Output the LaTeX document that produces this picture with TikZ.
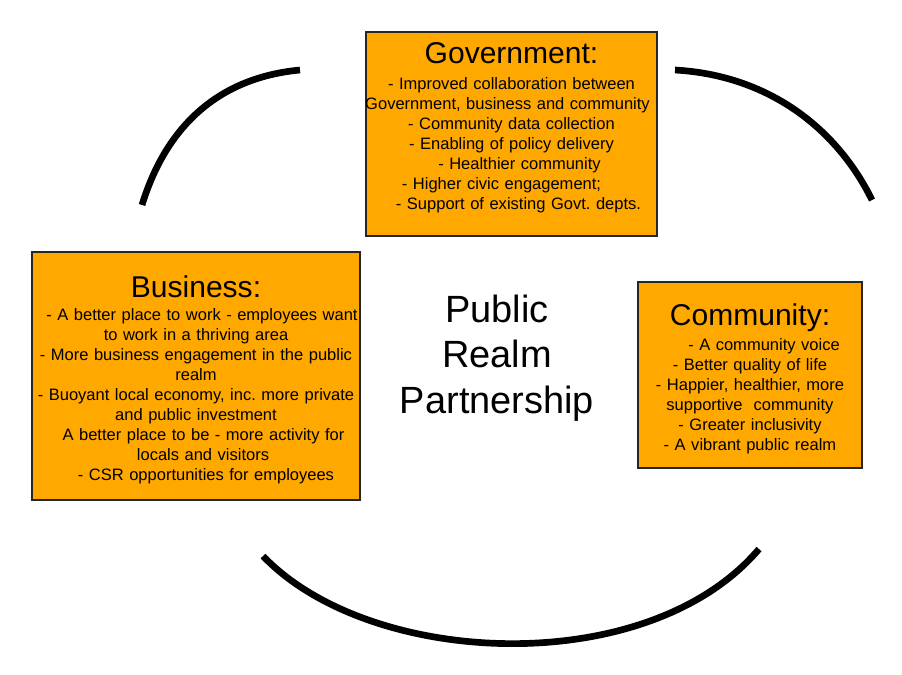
\documentclass[tikz,border=0pt]{standalone}
\usepackage{fontspec}
\setmainfont{Liberation Sans}
\usepackage{xcolor}
\usetikzlibrary{positioning}
\definecolor{panelorange}{RGB}{255,168,0}
\frenchspacing

\begin{document}
\begin{tikzpicture}[
  x=0.02cm, y=-0.02cm,
  panel/.style={rectangle, draw=black!85, line width=0.6pt, fill=panelorange,
                inner sep=0pt},
  paneltitle/.style={anchor=base, inner sep=0pt,
                     font=\fontsize{17.1}{20}\selectfont},
  paneltext/.style={anchor=base, inner sep=0pt, text width=#1, align=center,
                    font=\fontsize{9.4}{11.4}\selectfont},
  centretext/.style={anchor=base, inner sep=0pt, text width=8cm, align=center,
                     font=\fontsize{21.6}{25.9}\selectfont},
  loopline/.style={line width=3.8pt, black}
]
\useasboundingbox (0,0) rectangle (902,674);

% the three partners
\node[panel, minimum width=291*0.02cm, minimum height=204*0.02cm] (gov) at (511.5,134) {};
\node[paneltitle] (govtitle) at (511.5,63) {Government:};
\node[paneltext=6.8cm] (govtext) at (511.5,89) {%
  - Improved collaboration between\\
  \hspace*{-0.16cm}Government, business and community\\
  - Community data collection\\
  - Enabling of policy delivery\\
  \hspace*{0.32cm}- Healthier community\\
  \hspace*{-0.4cm}- Higher civic engagement;\\
  \hspace*{0.28cm}- Support of existing Govt. depts.};

\node[panel, minimum width=328*0.02cm, minimum height=248*0.02cm] (bus) at (196,376) {};
\node[paneltitle] (bustitle) at (196,297) {Business:};
\node[paneltext=7.6cm] (bustext) at (196,320) {%
  \hspace*{0.24cm}- A better place to work - employees want\\
  to work in a thriving area\\
  - More business engagement in the public\\
  realm\\
  - Buoyant local economy, inc. more private\\
  and public investment\\
  \hspace*{0.3cm}A better place to be - more activity for\\
  \hspace*{0.28cm}locals and visitors\\
  \hspace*{0.4cm}- CSR opportunities for employees};

\node[panel, minimum width=224*0.02cm, minimum height=186*0.02cm] (com) at (750,375) {};
\node[paneltitle] (comtitle) at (750,325) {Community:};
\node[paneltext=5.2cm] (comtext) at (750,350) {%
  \hspace*{0.56cm}- A community voice\\
  - Better quality of life\\
  - Happier, healthier, more\\
  supportive\ \ community\\
  - Greater inclusivity\\
  - A vibrant public realm};

% centre
\node[centretext] (prp) at (497,322) {Public\\Realm\\Partnership};

% the loop
\coordinate (tlA) at (300,70);
\coordinate (tlB) at (142,205);
\coordinate (trA) at (675,70);
\coordinate (trB) at (872,200);
\coordinate (btA) at (263,556);
\coordinate (btB) at (759,549);
\draw[loopline] (tlA) .. controls (215,78) and (165,130) .. (tlB);
\draw[loopline] (trA) .. controls (765,75) and (835,125) .. (trB);
\draw[loopline] (btA) .. controls (370,668) and (648,680) .. (btB);
\end{tikzpicture}
\end{document}
